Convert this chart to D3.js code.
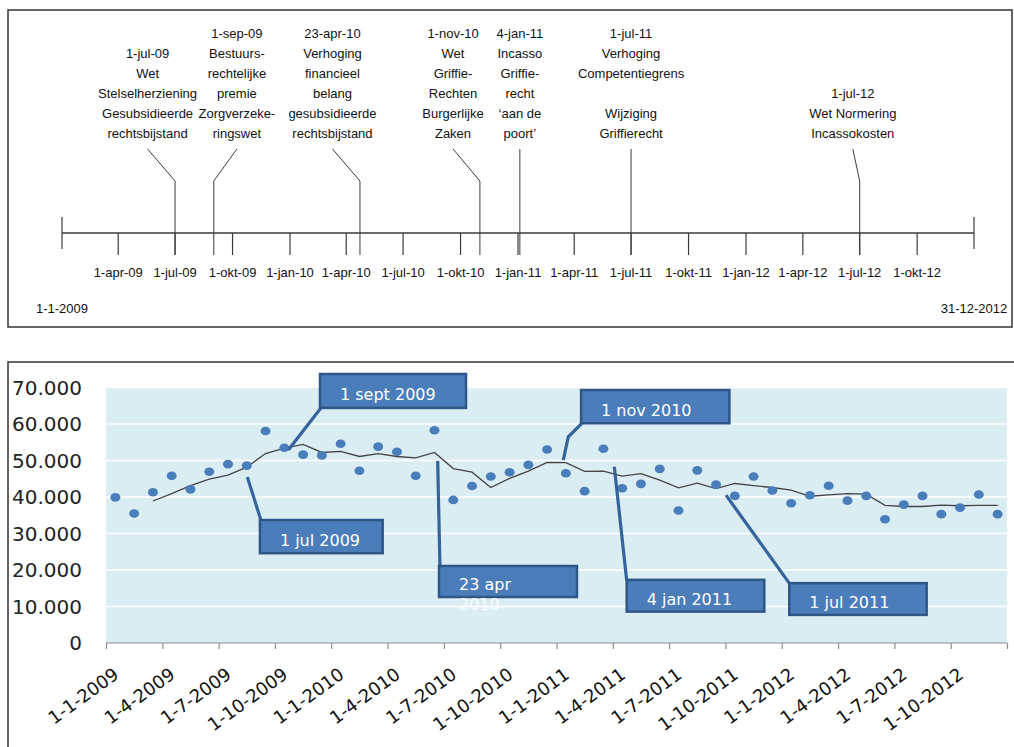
<!DOCTYPE html>
<html>
<head>
<meta charset="utf-8">
<script src="https://cdn.jsdelivr.net/npm/d3@7"></script>
<style>
  body { margin: 0; background: #fff; }
  svg { display: block; }
</style>
</head>
<body>
<div id="chart"></div>
<script>
// ---- timeline data (top panel) ----
const timelineStart = "2009-01-01";
const timelineEnd = "2012-12-31";
const timelineStartLabel = "1-1-2009";
const timelineEndLabel = "31-12-2012";
const timelineTickDates = ["2009-04-01", "2009-07-01", "2009-10-01", "2010-01-01", "2010-04-01", "2010-07-01",
    "2010-10-01", "2011-01-01", "2011-04-01", "2011-07-01", "2011-10-01", "2012-01-01", "2012-04-01",
    "2012-07-01", "2012-10-01"];
const timelineTickLabels = ["1-apr-09", "1-jul-09", "1-okt-09", "1-jan-10", "1-apr-10", "1-jul-10", "1-okt-10",
    "1-jan-11", "1-apr-11", "1-jul-11", "1-okt-11", "1-jan-12", "1-apr-12", "1-jul-12", "1-okt-12"];
const eventDates = ["2009-07-01", "2009-09-01", "2010-04-23", "2010-11-01", "2011-01-04", "2011-07-01", "2012-07-01"];
// where the text of each event sits on the time axis
const eventLabelDates = ["2009-05-18", "2009-10-08", "2010-03-10", "2010-09-19", "2011-01-04", "2011-07-01", "2012-06-20"];
const eventTexts = [
    ["1-jul-09", "Wet", "Stelselherziening", "Gesubsidieerde", "rechtsbijstand"],
    ["1-sep-09", "Bestuurs-", "rechtelijke", "premie", "Zorgverzeke-", "ringswet"],
    ["23-apr-10", "Verhoging", "financieel", "belang", "gesubsidieerde", "rechtsbijstand"],
    ["1-nov-10", "Wet", "Griffie-", "Rechten", "Burgerlijke", "Zaken"],
    ["4-jan-11", "Incasso", "Griffie-", "recht", "\u2018aan de", "poort\u2019"],
    ["1-jul-11", "Verhoging", "Competentiegrens", "", "Wijziging", "Griffierecht"],
    ["1-jul-12", "Wet Normering", "Incassokosten"]
];

// ---- monthly chart data (bottom panel), jan 2009 .. dec 2012 ----
const counts = [39900, 35500, 41300, 45800, 42100, 46900, 49000, 48600, 58100, 53500, 51600, 51400,
    54600, 47200, 53800, 52400, 45800, 58300, 39200, 43000, 45600, 46800, 48800, 53000,
    46500, 41600, 53200, 42400, 43600, 47700, 36300, 47300, 43400, 40300, 45600, 41800,
    38300, 40500, 43100, 39000, 40300, 33900, 37900, 40300, 35300, 37100, 40700, 35300];
// trend line, starts at month 3 (mar 2009)
const trendStart = 2;
const trend = [38900, 40900, 43100, 44900, 46000, 48200, 51900, 53400, 54400, 52200, 52500, 51100,
    51900, 51100, 50700, 52200, 47800, 46800, 42600, 45100, 47100, 49500, 49400, 47000,
    47100, 45700, 46400, 44600, 42500, 43800, 42300, 43700, 43100, 42600, 41900, 40200,
    40600, 40900, 40800, 37700, 37400, 37400, 37800, 37600, 37700, 37700];
const xTickLabels = ["1-1-2009", "1-4-2009", "1-7-2009", "1-10-2009", "1-1-2010", "1-4-2010", "1-7-2010",
    "1-10-2010", "1-1-2011", "1-4-2011", "1-7-2011", "1-10-2011", "1-1-2012", "1-4-2012", "1-7-2012", "1-10-2012"];
const yTicks = [0, 10000, 20000, 30000, 40000, 50000, 60000, 70000];

// callouts: text lines, leader line (month index, value), box (month range, value range)
const calloutTexts = [["1 sept 2009"], ["1 jul 2009"], ["23 apr", "2010"], ["1 nov 2010"], ["4 jan 2011"], ["1 jul 2011"]];
const calloutLeaders = [
    [[9.71, 52900], [11.45, 64400]],
    [[7.53, 45500], [8.25, 33700]],
    [[17.67, 49900], [17.79, 21100]],
    [[24.36, 50100], [24.63, 56500], [25.35, 60200]],
    [[27.08, 48300], [27.74, 17100]],
    [[33.03, 40500], [36.40, 16400]]
];
const calloutBoxMonths = [[11.40, 19.18], [8.20, 14.74], [17.74, 25.09], [25.31, 33.21], [27.74, 35.07], [36.40, 43.72]];
const calloutBoxValues = [[73700, 64400], [33700, 24600], [21100, 12600], [69300, 60200], [17300, 8600], [16400, 7700]];

const width = 1014, height = 747;
const parse = d3.timeParse("%Y-%m-%d");

let svg = d3.select("#chart")
    .append("svg")
    .attr("width", width)
    .attr("height", height);

// ================= top panel: timeline =================
let timeline = svg.append("g");
timeline.append("rect")
    .attr("x", 8).attr("y", 10)
    .attr("width", 1004).attr("height", 317)
    .attr("fill", "none")
    .attr("stroke", "#333")
    .attr("stroke-width", 1.5);

let tScale = d3.scaleTime()
    .domain([parse(timelineStart), parse(timelineEnd)])
    .range([62, 974]);
const axisY = 233;
const lineCol = "#3a3a3a";
const topFont = "'Liberation Sans', Arial, sans-serif";

timeline.append("line")
    .attr("x1", tScale.range()[0]).attr("x2", tScale.range()[1])
    .attr("y1", axisY).attr("y2", axisY)
    .style("stroke", lineCol).style("stroke-width", 1.3);

// end caps
timeline.selectAll(".cap")
    .data(tScale.domain())
    .join("line")
    .classed("cap", true)
    .attr("x1", d => tScale(d)).attr("x2", d => tScale(d))
    .attr("y1", axisY - 16).attr("y2", axisY + 16)
    .style("stroke", lineCol).style("stroke-width", 1.2);

timeline.selectAll(".capText")
    .data([timelineStartLabel, timelineEndLabel])
    .join("text")
    .classed("capText", true)
    .attr("x", (d, i) => tScale(tScale.domain()[i]))
    .attr("y", 313)
    .attr("text-anchor", "middle")
    .attr("font-family", topFont)
    .attr("font-size", "13px")
    .attr("fill", "#111")
    .text(d => d);

// quarter ticks
timeline.selectAll(".qTick")
    .data(timelineTickDates)
    .join("line")
    .classed("qTick", true)
    .attr("x1", d => tScale(parse(d))).attr("x2", d => tScale(parse(d)))
    .attr("y1", axisY).attr("y2", axisY + 22)
    .style("stroke", lineCol).style("stroke-width", 1.2);

timeline.selectAll(".qText")
    .data(timelineTickDates)
    .join("text")
    .classed("qText", true)
    .attr("x", d => tScale(parse(d)))
    .attr("y", 277)
    .attr("text-anchor", "middle")
    .attr("font-family", topFont)
    .attr("font-size", "13px")
    .attr("fill", "#111")
    .text((d, i) => timelineTickLabels[i]);

// event markers
const elbowY = 181, leaderTop = 149;
timeline.selectAll(".eventLine")
    .data(eventDates)
    .join("path")
    .classed("eventLine", true)
    .attr("d", (d, i) => {
        let x = tScale(parse(d));
        let lx = tScale(parse(eventLabelDates[i]));
        return "M" + x + "," + (axisY + 22) + "L" + x + "," + elbowY + "L" + lx + "," + leaderTop;
    })
    .attr("fill", "none")
    .style("stroke", lineCol).style("stroke-width", 1);

timeline.selectAll(".eventText")
    .data(eventTexts)
    .join("text")
    .classed("eventText", true)
    .attr("text-anchor", "middle")
    .attr("font-family", topFont)
    .attr("font-size", "13px")
    .attr("fill", "#111")
    .each(function(lines, i) {
        let lx = tScale(parse(eventLabelDates[i]));
        let lastY = leaderTop - 11;
        d3.select(this).selectAll("tspan")
            .data(lines)
            .join("tspan")
            .attr("x", lx)
            .attr("y", (t, j) => lastY - (lines.length - 1 - j) * 20)
            .text(t => t);
    });

// ================= bottom panel: chart =================
let chart = svg.append("g");
chart.append("rect")
    .attr("x", 8).attr("y", 362)
    .attr("width", 1020).attr("height", 420)
    .attr("fill", "#fff")
    .attr("stroke", "#333")
    .attr("stroke-width", 1.5);

let xScale = d3.scaleLinear()
    .domain([0, counts.length])
    .range([106, 1007]);
let yScale = d3.scaleLinear()
    .domain([0, 70000])
    .range([643, 387.5]);

const fmt = d3.formatLocale({ decimal: ",", thousands: ".", grouping: [3], currency: ["", ""] }).format(",");

// plot background
chart.append("rect")
    .attr("x", xScale(0))
    .attr("y", yScale(70000))
    .attr("width", xScale(counts.length) - xScale(0))
    .attr("height", yScale(0) - yScale(70000))
    .attr("fill", "#daedf3");

// gridlines
chart.selectAll(".grid")
    .data(yTicks.slice(1))
    .join("line")
    .classed("grid", true)
    .attr("x1", xScale(0)).attr("x2", xScale(counts.length))
    .attr("y1", d => yScale(d)).attr("y2", d => yScale(d))
    .style("stroke", "#fff").style("stroke-width", 1.5);

// y labels
chart.selectAll(".yText")
    .data(yTicks)
    .join("text")
    .classed("yText", true)
    .attr("x", 82)
    .attr("y", d => yScale(d) + 7)
    .attr("text-anchor", "end")
    .attr("font-family", "'DejaVu Sans', sans-serif")
    .attr("font-size", "20px")
    .attr("fill", "#222")
    .text(d => fmt(d));

// x axis
let xTickVals = d3.range(0, counts.length + 1, 3);
let xAxis = d3.axisBottom(xScale)
    .tickValues(xTickVals)
    .tickSize(6)
    .tickFormat("");
let xg = chart.append("g")
    .attr("transform", "translate(0," + yScale(0) + ")")
    .call(xAxis);
xg.select(".domain").attr("stroke", "#8c8c8c").attr("stroke-width", 1.2).attr("d", "M" + xScale(0) + ",0H" + xScale(counts.length));
xg.selectAll(".tick line").attr("stroke", "#8c8c8c").attr("stroke-width", 1.2);

chart.selectAll(".xText")
    .data(xTickLabels)
    .join("text")
    .classed("xText", true)
    .attr("transform", (d, i) => "translate(" + (xScale(xTickVals[i]) + 14) + "," + (yScale(0) + 34) + ") rotate(-36)")
    .attr("text-anchor", "end")
    .attr("font-family", "'DejaVu Sans', sans-serif")
    .attr("font-size", "18px")
    .attr("fill", "#111")
    .text(d => d);

// trend line
let line = d3.line()
    .x((d, i) => xScale(i + trendStart + 0.5))
    .y(d => yScale(d));
chart.append("path")
    .datum(trend)
    .attr("d", line)
    .attr("fill", "none")
    .style("stroke", "#444")
    .style("stroke-width", 1.3);

// monthly dots
chart.selectAll(".dot")
    .data(counts)
    .join("ellipse")
    .classed("dot", true)
    .attr("cx", (d, i) => xScale(i + 0.5))
    .attr("cy", d => yScale(d))
    .attr("rx", 5)
    .attr("ry", 4.3)
    .attr("fill", "#4a7ebb");

// callouts
let leaderLine = d3.line()
    .x(d => xScale(d[0]))
    .y(d => yScale(d[1]));
chart.selectAll(".leader")
    .data(calloutLeaders)
    .join("path")
    .classed("leader", true)
    .attr("d", leaderLine)
    .attr("fill", "none")
    .style("stroke", "#35639c")
    .style("stroke-width", 3.2);

chart.selectAll(".callBox")
    .data(calloutBoxMonths)
    .join("rect")
    .classed("callBox", true)
    .attr("x", d => xScale(d[0]))
    .attr("width", d => xScale(d[1]) - xScale(d[0]))
    .attr("y", (d, i) => yScale(calloutBoxValues[i][0]))
    .attr("height", (d, i) => yScale(calloutBoxValues[i][1]) - yScale(calloutBoxValues[i][0]))
    .attr("fill", "#4b7dba")
    .attr("stroke", "#2e5686")
    .attr("stroke-width", 2.5);

chart.selectAll(".callText")
    .data(calloutTexts)
    .join("text")
    .classed("callText", true)
    .attr("font-family", "'DejaVu Sans', sans-serif")
    .attr("font-size", "16px")
    .attr("fill", "#fff")
    .each(function(lines, i) {
        let x0 = xScale(calloutBoxMonths[i][0]) + 20;
        let yc = (yScale(calloutBoxValues[i][0]) + yScale(calloutBoxValues[i][1])) / 2;
        d3.select(this).selectAll("tspan")
            .data(lines)
            .join("tspan")
            .attr("x", x0)
            .attr("y", (t, j) => yc + 9 + j * 20)
            .attr("fill-opacity", (t, j) => j == 0 ? 1 : 0.85)
            .text(t => t);
    });
</script>
</body>
</html>
